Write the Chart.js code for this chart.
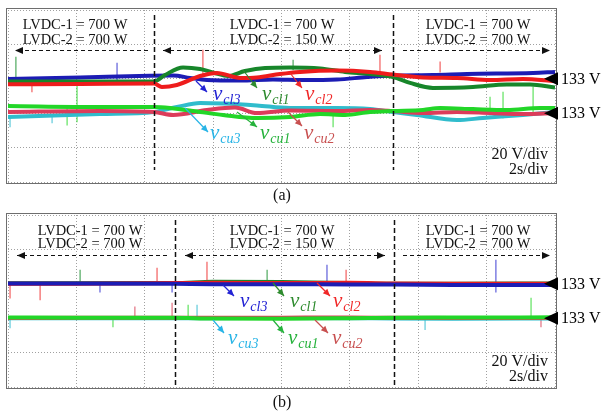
<!DOCTYPE html>
<html><head><meta charset="utf-8">
<script src="https://cdn.jsdelivr.net/npm/chart.js@4.4.0/dist/chart.umd.min.js"></script>
<style>
html,body{margin:0;padding:0;background:#fff;width:601px;height:415px;overflow:hidden}
canvas{position:absolute;left:0}
#ca{top:0}
#cb{top:207px}
</style></head><body>
<canvas id="ca" width="601" height="207"></canvas>
<canvas id="cb" width="601" height="208"></canvas>
<script>
// ---------- DATA (time in s, voltage in V) ----------
// Panel (a)
const A_vcl3_t = [0,2.11,4.15,4.83,5.32,5.82,6.79,7.75,8.63,9.62,10.5,11.26,12.43,13.43,15.36,16];
const A_vcl3_v = [132.9,133.8,134.8,134.9,133.5,132.3,132.0,132.6,132.3,132.6,134.0,134.9,135.2,135.8,136.4,137.0];
const A_vcl1_t = [0,2.11,4.27,4.59,5.12,5.62,6.05,6.43,6.93,7.52,8.25,9.13,9.86,10.59,11.26,11.76,12.43,13.60,14.59,15.27,16];
const A_vcl1_v = [131.4,131.4,131.4,135.2,139.6,138.7,136.4,134.6,137.5,139.3,139.6,139.0,137.0,135.8,134.0,130.6,127.7,128.2,129.7,129.7,127.9];
const A_vcl2_t = [0,2.11,4.27,4.50,4.94,5.62,6.11,6.79,7.28,7.96,8.54,9.62,10.59,11.26,12.14,13.13,14.10,15.06,16];
const A_vcl2_v = [129.8,130.0,130.3,128.2,129.4,134.6,136.4,133.5,133.8,135.8,137.0,137.8,137.0,135.5,133.8,133.5,132.3,132.9,131.7];
const A_vcu1_t = [0,2.69,4.27,4.74,5.62,6.29,7.28,8.25,9.13,9.86,10.59,11.26,12.14,12.64,13.60,14.59,15.56,16];
const A_vcu1_v = [137.2,136.6,136.6,136.0,133.7,132.0,130.2,130.8,132.5,132.0,133.7,134.3,134.9,136.0,135.4,134.9,136.0,136.0];
const A_vcu2_t = [0,2.69,4.27,4.83,5.82,6.64,7.28,8.25,9.62,10.59,11.26,12.14,13.13,14.10,15.06,16];
const A_vcu2_v = [133.7,134.3,133.7,132.0,134.9,136.3,133.1,134.6,134.3,134.9,134.3,133.1,133.7,133.1,132.5,133.1];
const A_vcu3_t = [0,2.69,4.27,4.94,5.62,6.29,7.28,8.25,9.62,10.59,11.26,11.96,13.13,13.89,15.06,16];
const A_vcu3_v = [130.8,132.5,133.7,136.6,138.9,138.6,137.5,136.0,136.0,135.4,133.7,132.0,129.0,130.2,132.0,133.7];
const A_spikeT  = [0.23,3.19,2.02,0.70,0.06,1.29,1.73,5.70,10.88,14.48,15.36,14.10,12.64,8.34,9.51];
const A_spikeLo = [131.4,132.3,127.9,125.3,125.0,127.3,126.1,135.2,136.4,130.2,133.1,132.0,136.9,138.1,125.0];
const A_spikeHi = [145.7,142.2,152.3,130.0,130.8,132.0,136.0,149.7,146.8,145.3,148.2,142.4,142.8,143.9,133.1];
const A_spikeSeries = ['vcl1','vcl3','vcu1','vcl2','vcu3','vcu3','vcu1','vcl2','vcl2','vcu1','vcu1','vcu1','vcl2','vcl1','vcu1'];
const A_switchT = [4.27, 11.26];

// Panel (b)
const B_t = [0,2,4.88,6,8,10,11.29,13,16];
const B_vcl3_v = [133.2,133.2,133.0,132.8,132.8,132.6,132.6,132.3,132.3];
const B_vcl1_v = [133.3,133.3,133.4,134.2,134.0,133.4,133.0,133.0,133.2];
const B_vcl2_v = [133.0,133.0,133.4,133.6,133.4,133.6,133.2,133.0,133.0];
const B_vcu1_v = [133.4,133.3,133.2,132.8,132.7,133.0,133.3,133.4,133.5];
const B_vcu2_v = [133.1,133.2,133.3,133.2,133.3,133.4,133.2,133.1,133.1];
const B_vcu3_v = [133.0,133.0,133.0,133.0,133.1,133.0,132.8,132.7,132.8];
const B_spikeT  = [0.06,0.94,2.11,2.69,4.36,4.80,5.82,7.58,9.33,9.89,14.27,0.06,3.71,4.80,5.27,5.53,3.07,15.30,15.59,12.20];
const B_spikeLo = [124.7,123.6,133.5,128.2,133.5,128.2,133.5,133.5,133.5,133.5,128.2,127.4,133,133,133,133,128,133,128,126.4];
const B_spikeHi = [133.5,132.3,141.0,133.5,142.2,133.0,145.6,141.0,143.9,141.0,146.8,133,139.6,141.8,140.7,140.7,133,144.7,133,133];
const B_spikeSeries = ['vcl2','vcl2','vcl1','vcl3','vcl2','vcl3','vcl2','vcl1','vcl3','vcl2','vcl3','vcu3','vcu2','vcu2','vcu1','vcu3','vcu1','vcu1','vcu2','vcu3'];
const B_switchT = [4.88, 11.29];

const refVoltage = 133;       // both channel groups marked at 133 V
const voltsPerDiv = 20;
const secPerDiv = 2;

// ---------- STYLE ----------
const traceColor = {vcl3:'#1c1cb4', vcl1:'#17862a', vcl2:'#ee1c1c', vcu1:'#22d628', vcu2:'#dc3c5a', vcu3:'#30bccc'};
const spikeColor = {vcl3:'rgba(60,60,210,0.6)', vcl1:'rgba(40,150,60,0.6)', vcl2:'rgba(240,60,60,0.6)', vcu1:'rgba(60,220,60,0.6)', vcu2:'rgba(220,80,100,0.6)', vcu3:'rgba(60,190,210,0.6)'};
const labelColor = {vcl3:'#2323d4', vcl1:'#2e8b2e', vcl2:'#f02828', vcu1:'#26b23c', vcu2:'#c85050', vcu3:'#28b4e6'};
const groupRef = {vcl3:60, vcl1:60, vcl2:60, vcu1:40, vcu2:40, vcu3:40}; // screen position of 133 V (axis units, 20/div)
const SERIF = '"Liberation Serif","Times New Roman",serif';

function scr(v, name){ return groupRef[name] + (v - refVoltage) * (20 / voltsPerDiv); }

function lineDs(name, t, v, order){
  return {type:'line', label:name, order:order,
    data: t.map((tt,i)=>({x:tt, y:scr(v[i], name)})),
    borderColor: traceColor[name], borderWidth:4, pointRadius:0,
    cubicInterpolationMode:'monotone', fill:false};
}
function spikeDs(T, Lo, Hi, S){
  return {type:'bar', label:'spikes', order:100,
    data: T.map((tt,i)=>({x:tt, y:[scr(Lo[i],S[i]), scr(Hi[i],S[i])]})),
    backgroundColor: S.map(s=>spikeColor[s]), borderWidth:0,
    barThickness:1, grouped:false};
}

function head(ctx,x1,y1,x2,y2,len,half){
  const a=Math.atan2(y2-y1,x2-x1), c=Math.cos(a), s=Math.sin(a);
  ctx.beginPath();
  ctx.moveTo(x2,y2);
  ctx.lineTo(x2-len*c+half*s, y2-len*s-half*c);
  ctx.lineTo(x2-len*c-half*s, y2-len*s+half*c);
  ctx.closePath(); ctx.fill();
}

const decoPlugin = {
  id:'deco',
  afterDraw(chart, args, o){
    const ctx=chart.ctx, a=chart.chartArea, xs=chart.scales.x, ys=chart.scales.y;
    ctx.save();
    // frame
    ctx.strokeStyle='#6e6e6e'; ctx.lineWidth=1; ctx.setLineDash([]);
    ctx.strokeRect(a.left-1.5, a.top-1.5, a.right-a.left+3, a.bottom-a.top+3);
    // switching instants
    ctx.strokeStyle='#111'; ctx.lineWidth=1.5; ctx.setLineDash([5,3]);
    o.switchT.forEach(t=>{
      const x=Math.round(xs.getPixelForValue(t))+0.5;
      ctx.beginPath(); ctx.moveTo(x,o.vline[0]); ctx.lineTo(x,o.vline[1]); ctx.stroke();
    });
    // dashed arrows
    ctx.lineWidth=1.2; ctx.fillStyle='#111';
    o.arrows.forEach(ar=>{
      const y=o.arrowY+0.5;
      ctx.setLineDash([4,3]);
      ctx.beginPath(); ctx.moveTo(ar[0],y); ctx.lineTo(ar[1],y); ctx.stroke();
      ctx.setLineDash([]);
      head(ctx, ar[0],y, ar[1],y, 8,3.5);
      if(ar[2]) head(ctx, ar[1],y, ar[0],y, 8,3.5);
    });
    // condition texts
    ctx.setLineDash([]);
    ctx.fillStyle='#111'; ctx.font='14.5px '+SERIF; ctx.textAlign='center'; ctx.textBaseline='middle';
    o.texts.forEach(tb=>{
      tb.lines.forEach((s,i)=>ctx.fillText(s, tb.x, tb.y + i*o.lineH));
    });
    // scale text
    ctx.font='16px '+SERIF; ctx.textAlign='right';
    ctx.fillText(voltsPerDiv+' V/div', 548, o.scaleY);
    ctx.fillText(secPerDiv+'s/div', 548, o.scaleY+15);
    // reference markers
    [60,40].forEach(r=>{
      const y=ys.getPixelForValue(r);
      ctx.fillStyle='#000';
      ctx.beginPath(); ctx.moveTo(544,y); ctx.lineTo(558,y-6.5); ctx.lineTo(558,y+6.5); ctx.closePath(); ctx.fill();
      ctx.font='16px '+SERIF; ctx.textAlign='left'; ctx.textBaseline='middle';
      ctx.fillText(refVoltage+' V', 561, y+1);
    });
    // trace labels with arrows
    o.labels.forEach(L=>{
      const col=labelColor[L.name];
      ctx.strokeStyle=col; ctx.fillStyle=col; ctx.lineWidth=1.2;
      ctx.beginPath(); ctx.moveTo(L.ar[0],L.ar[1]); ctx.lineTo(L.ar[2],L.ar[3]); ctx.stroke();
      head(ctx, L.ar[0],L.ar[1], L.ar[2],L.ar[3], 7,3.2);
      ctx.textAlign='left'; ctx.textBaseline='alphabetic';
      ctx.font='italic 21px '+SERIF;
      ctx.fillText('v', L.x, L.y);
      const w=ctx.measureText('v').width;
      ctx.font='italic 14px '+SERIF;
      ctx.fillText(L.name.slice(1), L.x+w+1, L.y+4);
    });
    // caption
    ctx.fillStyle='#111'; ctx.font='16px '+SERIF; ctx.textAlign='center'; ctx.textBaseline='middle';
    ctx.fillText(o.caption, 282, o.captionY);
    ctx.restore();
  }
};

function baseOptions(pad, deco){
  const gridOpts = {color:'#a0a0a0', lineWidth:1, drawTicks:false, offset:false};
  return {
    animation:false, responsive:false, devicePixelRatio:1,
    layout:{padding:pad},
    plugins:{legend:{display:false}, tooltip:{enabled:false}, deco:deco},
    scales:{
      x:{type:'linear', min:0, max:16, offset:false, ticks:{display:false, stepSize:secPerDiv}, grid:gridOpts, border:{display:false, dash:[1,2]}},
      y:{type:'linear', min:0, max:100, ticks:{display:false, stepSize:20}, grid:gridOpts, border:{display:false, dash:[1,2]}}
    }
  };
}

// ---------- CHART (a) ----------
new Chart(document.getElementById('ca'), {
  type:'line',
  data:{datasets:[
    spikeDs(A_spikeT, A_spikeLo, A_spikeHi, A_spikeSeries),
    lineDs('vcl3', A_vcl3_t, A_vcl3_v, 6),
    lineDs('vcl1', A_vcl1_t, A_vcl1_v, 5),
    lineDs('vcl2', A_vcl2_t, A_vcl2_v, 4),
    lineDs('vcu3', A_vcu3_t, A_vcu3_v, 3),
    lineDs('vcu2', A_vcu2_t, A_vcu2_v, 2),
    lineDs('vcu1', A_vcu1_t, A_vcu1_v, 1)
  ]},
  options: baseOptions({left:8, right:46, top:10, bottom:25}, {
    switchT:A_switchT, vline:[15,170],
    arrowY:50, arrows:[[148,15,false],[163,382,true],[403,550,false]],
    texts:[{x:75,y:25,lines:['LVDC-1 = 700 W','LVDC-2 = 700 W']},
           {x:282,y:25,lines:['LVDC-1 = 700 W','LVDC-2 = 150 W']},
           {x:478,y:25,lines:['LVDC-1 = 700 W','LVDC-2 = 700 W']}],
    lineH:15, scaleY:155, caption:'(a)', captionY:196,
    labels:[
      {name:'vcl3', x:213, y:100, ar:[196,81,207,92]},
      {name:'vcl1', x:262, y:100, ar:[243,70,257,88]},
      {name:'vcl2', x:305, y:100, ar:[290,73,302,88]},
      {name:'vcu3', x:210, y:139, ar:[185,108,208,132]},
      {name:'vcu1', x:260, y:139, ar:[237,112,257,127]},
      {name:'vcu2', x:304, y:139, ar:[288,112,302,126]}
    ]
  })
  ,plugins:[decoPlugin]
});

// ---------- CHART (b) ----------
new Chart(document.getElementById('cb'), {
  type:'line',
  data:{datasets:[
    spikeDs(B_spikeT, B_spikeLo, B_spikeHi, B_spikeSeries),
    lineDs('vcl1', B_t, B_vcl1_v, 6),
    lineDs('vcl2', B_t, B_vcl2_v, 5),
    lineDs('vcl3', B_t, B_vcl3_v, 4),
    lineDs('vcu3', B_t, B_vcu3_v, 3),
    lineDs('vcu2', B_t, B_vcu2_v, 2),
    lineDs('vcu1', B_t, B_vcu1_v, 1)
  ]},
  options: baseOptions({left:8, right:46, top:8, bottom:28}, {
    switchT:B_switchT, vline:[13,180],
    arrowY:48, arrows:[[167,17,false],[185,385,true],[403,550,false]],
    texts:[{x:90,y:24,lines:['LVDC-1 = 700 W','LVDC-2 = 700 W']},
           {x:282,y:24,lines:['LVDC-1 = 700 W','LVDC-2 = 150 W']},
           {x:478,y:24,lines:['LVDC-1 = 700 W','LVDC-2 = 700 W']}],
    lineH:13.5, scaleY:155, caption:'(b)', captionY:196,
    labels:[
      {name:'vcl3', x:240, y:100, ar:[223,78,234,89]},
      {name:'vcl1', x:290, y:100, ar:[273,76,284,89]},
      {name:'vcl2', x:333, y:100, ar:[317,76,330,89]},
      {name:'vcu3', x:228, y:137, ar:[213,113,224,126]},
      {name:'vcu1', x:288, y:137, ar:[273,113,284,126]},
      {name:'vcu2', x:332, y:137, ar:[315,113,328,126]}
    ]
  })
  ,plugins:[decoPlugin]
});
</script>
</body></html>
